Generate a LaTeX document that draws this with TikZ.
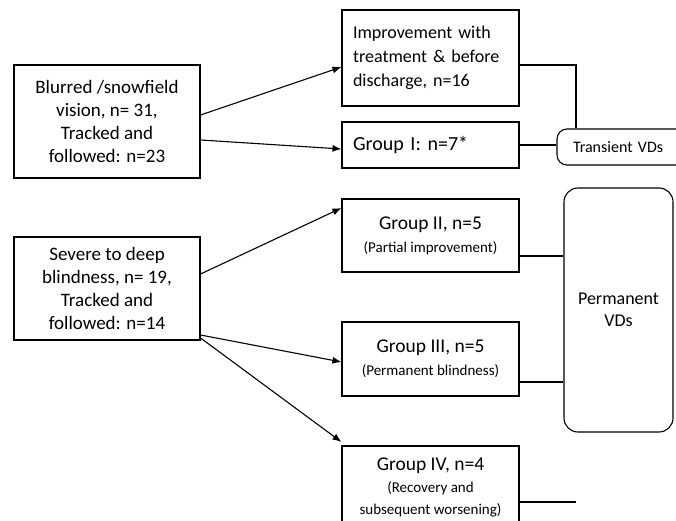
\documentclass[tikz,border=0pt]{standalone}
\usepackage{fontspec}
\setmainfont{Carlito}
\usetikzlibrary{arrows.meta}
\begin{document}
\begin{tikzpicture}[x=1pt,y=-1pt,
  box/.style={draw, line width=1.1pt, align=center, inner sep=0pt},
  rbox/.style={box, rounded corners=10pt},
  arr/.style={line width=1.1pt, -{Latex[length=9pt,width=7pt]}},
  ln/.style={line width=1.1pt}]
\useasboundingbox (0,0) rectangle (676,521);
\begin{scope}
\clip (0,0) rectangle (676,521);
\node[box, minimum width=186pt, minimum height=113pt, font=\fontsize{19}{23}\selectfont] (A) at (107,121.5) {Blurred /snowfield\\vision, n= 31,\\Tracked and\\followed: n=23};
\node[box, minimum width=186pt, minimum height=103pt, font=\fontsize{19}{23}\selectfont] (B) at (107,288.5) {Severe to deep\\blindness, n= 19,\\Tracked and\\followed: n=14};
\node[box, minimum width=177pt, minimum height=96pt, text width=155pt, align=left, font=\fontsize{18}{24}\selectfont] (Imp) at (430.5,58) {Improvement with\\treatment \& before\\discharge, n=16};
\node[box, minimum width=177pt, minimum height=46pt, font=\fontsize{20}{22}\selectfont, text width=155pt, align=left] (G1) at (430.5,145) {Group I: n=7*};
\node[box, minimum width=177pt, minimum height=73pt, font=\fontsize{19.5}{22}\selectfont] (G2) at (430.5,235.5) {Group II, n=5\\[1pt]\fontsize{15}{16}\selectfont (Partial improvement)};
\node[box, minimum width=177pt, minimum height=74pt, font=\fontsize{19.5}{22}\selectfont] (G3) at (430.5,359) {Group III, n=5\\[1pt]\fontsize{15}{16}\selectfont (Permanent blindness)};
\node[box, minimum width=177pt, minimum height=82pt, font=\fontsize{19.5}{22}\selectfont] (G4) at (430.5,487) {Group IV, n=4\\[0pt]\fontsize{15}{19}\selectfont (Recovery and\\\fontsize{15}{19}\selectfont subsequent worsening)};
\node[rbox, minimum width=133pt, minimum height=36pt, text width=101pt, align=left, font=\fontsize{16}{18}\selectfont] (T) at (623.5,147) {Transient VDs};
\node[rbox, rounded corners=14pt, minimum width=109pt, minimum height=244pt, font=\fontsize{18}{22}\selectfont] (P) at (618.5,310) {Permanent\\VDs};
\coordinate (G4end) at (576,502);
\end{scope}
\draw[arr] ([yshift=6.5pt]A.east) -- ([yshift=-9pt]Imp.west);
\draw[arr] ([yshift=-18.5pt]A.east) -- ([yshift=-4pt]G1.west);
\draw[arr] ([yshift=14.5pt]B.east) -- ([yshift=27.5pt]G2.west);
\draw[arr] ([yshift=-46.5pt]B.east) -- ([yshift=-3pt]G3.west);
\draw[arr] ([yshift=-49.5pt]B.east) -- ([yshift=45pt]G4.west);
\draw[ln] ([yshift=-7pt]Imp.east) -| ([xshift=-47.5pt]T.north);
\draw[ln] (G1.east) -- (G1.east -| T.west);
\draw[ln] ([yshift=-20.5pt]G2.east) -- ([yshift=-20.5pt]G2.east -| P.west);
\draw[ln] ([yshift=-23pt]G3.east) -- ([yshift=-23pt]G3.east -| P.west);
\draw[ln] (G4end -| G4.east) -- (G4end);
\end{tikzpicture}
\end{document}
